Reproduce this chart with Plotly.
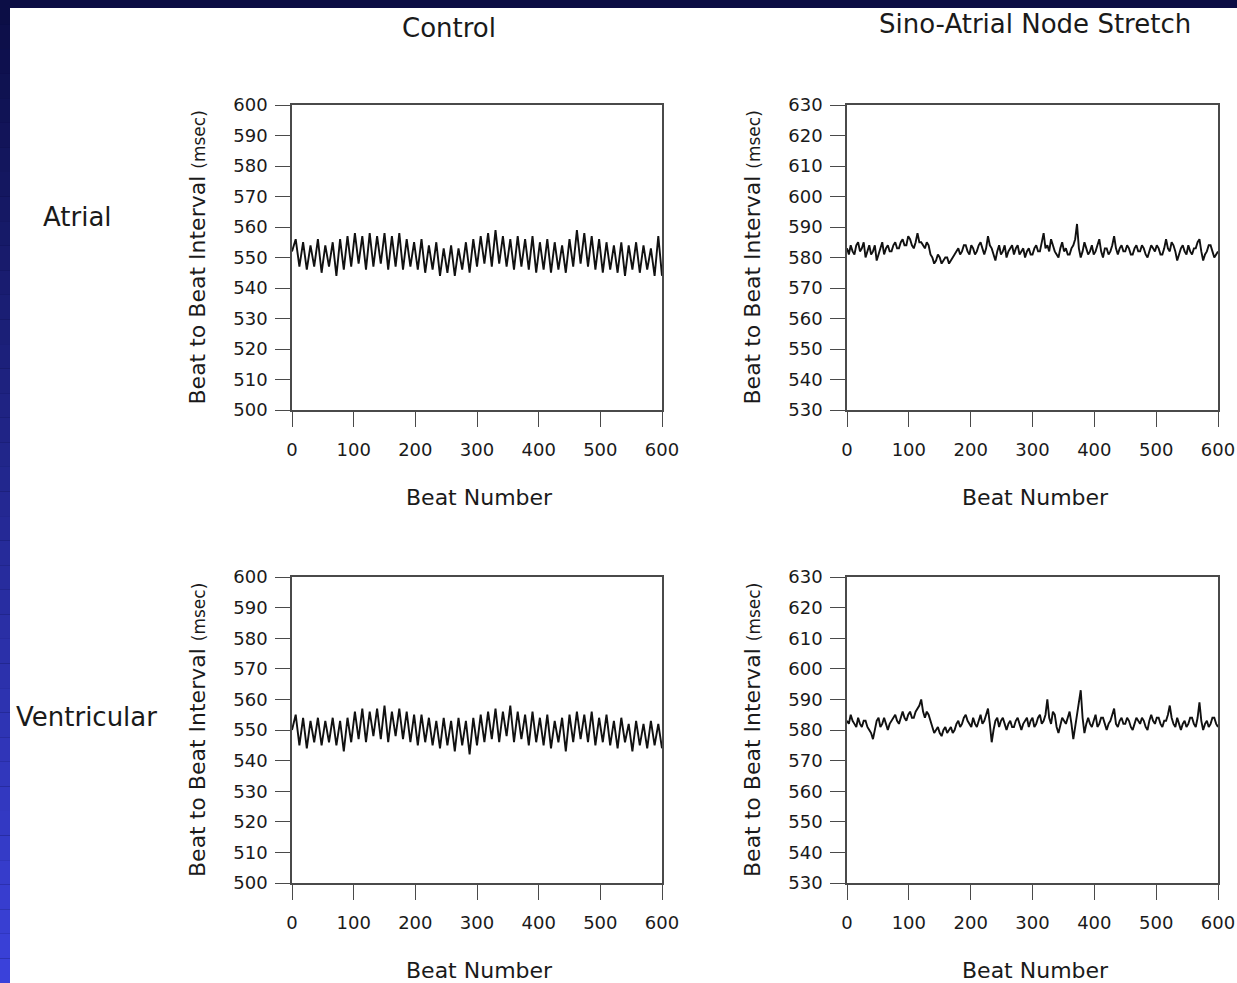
import plotly.graph_objects as go

W, H = 1237, 983

# Beat numbers: control traces sampled every 6 beats, stretch traces every 3
BEATS_6 = list(range(0, 601, 6))
BEATS_3 = list(range(0, 601, 3))

control_atrial = [
    552, 556, 547, 555, 546, 554, 547, 556, 545, 554,
    547, 555, 544, 556, 546, 557, 547, 558, 548, 557,
    546, 558, 547, 557, 548, 558, 546, 557, 547, 558,
    546, 556, 547, 555, 546, 556, 545, 554, 546, 555,
    544, 553, 545, 554, 544, 553, 546, 555, 545, 556,
    547, 557, 548, 558, 547, 559, 548, 557, 547, 556,
    546, 557, 547, 556, 546, 557, 545, 555, 546, 556,
    545, 555, 546, 554, 545, 556, 547, 559, 548, 558,
    547, 557, 546, 556, 545, 555, 546, 554, 545, 555,
    544, 554, 546, 555, 545, 554, 546, 553, 544, 557,
    544,
]
control_ventricular = [
    550, 555, 545, 554, 544, 553, 546, 554, 545, 553,
    546, 554, 545, 553, 543, 554, 546, 556, 547, 557,
    546, 556, 548, 557, 547, 558, 546, 556, 548, 557,
    547, 556, 546, 555, 545, 555, 546, 554, 545, 553,
    544, 554, 545, 553, 543, 554, 545, 553, 542, 554,
    545, 555, 546, 556, 547, 557, 546, 556, 548, 558,
    546, 556, 547, 555, 545, 556, 546, 554, 545, 555,
    544, 553, 546, 554, 543, 555, 546, 556, 547, 555,
    546, 556, 545, 554, 546, 555, 545, 553, 544, 554,
    546, 552, 543, 553, 545, 552, 544, 553, 545, 552,
    544,
]
stretch_atrial = [
    583, 581, 584, 582, 581, 584, 585, 582, 583, 585, 580, 582, 584, 581, 582, 584, 579, 581, 583, 585,
    581, 583, 584, 582, 582, 584, 585, 583, 583, 585, 586, 584, 584, 587, 586, 584, 583, 585, 588, 585,
    585, 584, 583, 585, 584, 581, 580, 578, 579, 581, 580, 578, 579, 580, 580, 578, 579, 580, 581, 582,
    583, 581, 582, 584, 584, 582, 581, 584, 583, 581, 582, 584, 585, 583, 581, 583, 587, 584, 583, 581,
    579, 582, 584, 581, 582, 584, 580, 582, 583, 584, 581, 583, 584, 581, 582, 583, 580, 582, 583, 581,
    581, 583, 584, 582, 582, 585, 588, 583, 584, 582, 586, 584, 582, 581, 580, 583, 585, 582, 583, 581,
    581, 583, 584, 586, 591, 583, 580, 582, 585, 583, 581, 582, 584, 581, 582, 584, 586, 582, 580, 583,
    583, 581, 582, 584, 587, 583, 581, 583, 584, 582, 582, 584, 583, 581, 581, 583, 584, 582, 582, 584,
    583, 581, 580, 582, 584, 583, 582, 584, 583, 581, 581, 583, 586, 583, 582, 585, 584, 582, 579, 581,
    583, 584, 582, 581, 584, 582, 581, 583, 583, 585, 586, 582, 579, 581, 582, 584, 584, 582, 580, 581,
    582,
]
stretch_ventricular = [
    583, 582, 585, 583, 582, 581, 584, 582, 581, 583, 583, 581, 580, 579, 577, 580, 583, 584, 581, 582,
    584, 582, 580, 582, 583, 584, 585, 583, 582, 584, 586, 584, 583, 585, 586, 584, 584, 586, 587, 588,
    590, 586, 584, 586, 585, 583, 581, 579, 580, 581, 579, 578, 580, 581, 579, 580, 581, 579, 580, 582,
    583, 581, 582, 584, 585, 583, 582, 581, 584, 582, 581, 583, 585, 582, 583, 585, 587, 582, 576, 580,
    583, 584, 581, 583, 584, 582, 580, 582, 583, 581, 581, 583, 584, 582, 580, 582, 583, 584, 581, 583,
    584, 581, 582, 584, 585, 582, 583, 585, 590, 584, 582, 586, 585, 581, 579, 582, 584, 583, 582, 584,
    586, 582, 577, 581, 585, 588, 593, 584, 579, 582, 584, 582, 581, 583, 585, 581, 582, 584, 584, 582,
    580, 582, 583, 585, 587, 582, 581, 583, 584, 582, 582, 584, 583, 581, 580, 582, 584, 583, 582, 584,
    583, 581, 580, 583, 585, 583, 582, 584, 584, 582, 581, 583, 583, 585, 588, 584, 582, 581, 584, 582,
    580, 582, 583, 581, 582, 584, 584, 582, 581, 584, 589, 583, 580, 582, 583, 581, 582, 584, 584, 582,
    581,
]

X_TICKS = [0, 100, 200, 300, 400, 500, 600]
Y_TICKS_CONTROL = list(range(500, 601, 10))
Y_TICKS_STRETCH = list(range(530, 631, 10))

COL_TITLES = ["Control", "Sino-Atrial Node Stretch"]
ROW_TITLES = ["Atrial", "Ventricular"]
X_TITLE = "Beat Number"
Y_TITLE = "Beat to Beat Interval <span style='font-size:17px'>(msec)</span>"

FONT = "DejaVu Sans"
TXT = "#1a1a1a"
AXIS = "#4a4a4a"


def px(x):
    return x / W


def py(y):
    return 1 - y / H


# panel boxes in pixels: (left, right, top, bottom)
cols = [(292, 662), (847, 1218)]
rows = [(105, 410), (577, 883)]

panels = [
    (0, 0, BEATS_6, control_atrial, Y_TICKS_CONTROL),
    (0, 1, BEATS_3, stretch_atrial, Y_TICKS_STRETCH),
    (1, 0, BEATS_6, control_ventricular, Y_TICKS_CONTROL),
    (1, 1, BEATS_3, stretch_ventricular, Y_TICKS_STRETCH),
]

fig = go.Figure()
layout_axes = {}
for i, (r, c, beats, series, yticks) in enumerate(panels):
    n = "" if i == 0 else str(i + 1)
    xa, ya = "x" + n, "y" + n
    fig.add_trace(go.Scatter(
        x=beats, y=series, mode="lines",
        line=dict(color="#111111", width=1.9),
        xaxis=xa, yaxis=ya, showlegend=False, hoverinfo="skip",
    ))
    l, rr = cols[c]
    t, b = rows[r]
    common = dict(
        showgrid=False, zeroline=False, showline=True, linecolor=AXIS,
        linewidth=1.6, mirror=True, ticks="outside", ticklen=15,
        tickwidth=1.4, tickcolor=AXIS, automargin=False,
        tickfont=dict(family=FONT, size=18, color=TXT),
    )
    layout_axes["xaxis" + n] = dict(
        common, domain=[px(l), px(rr)], range=[0, 600],
        tickvals=X_TICKS, anchor=ya, ticklabelstandoff=8,
    )
    layout_axes["yaxis" + n] = dict(
        common, domain=[py(b), py(t)], range=[yticks[0], yticks[-1]],
        tickvals=yticks, anchor=xa, ticklabelstandoff=4,
    )

annotations = []
for c, (l, rr) in enumerate(cols):
    for r, (t, b) in enumerate(rows):
        annotations.append(dict(
            text=X_TITLE, x=px((l + rr) / 2 + 3), y=py(b + 87),
            xref="paper", yref="paper", showarrow=False,
            xanchor="center", yanchor="middle",
            font=dict(family=FONT, size=22, color=TXT),
        ))
        annotations.append(dict(
            text=Y_TITLE, x=px(l - 95), y=py((t + b) / 2),
            xref="paper", yref="paper", showarrow=False, textangle=-90,
            xanchor="center", yanchor="middle",
            font=dict(family=FONT, size=22, color=TXT),
        ))

for text, x, y in zip(COL_TITLES, [449, 1035], [28, 24]):
    annotations.append(dict(
        text=text, x=px(x), y=py(y), xref="paper", yref="paper",
        showarrow=False, xanchor="center", yanchor="middle",
        font=dict(family=FONT, size=26, color=TXT),
    ))
for text, x, y in zip(ROW_TITLES, [77, 86], [217, 717]):
    annotations.append(dict(
        text=text, x=px(x), y=py(y), xref="paper", yref="paper",
        showarrow=False, xanchor="center", yanchor="middle",
        font=dict(family=FONT, size=26, color=TXT),
    ))

# slide frame: navy top band, blue gradient strip on the left, white page
shapes = [dict(type="rect", xref="paper", yref="paper", x0=px(10), x1=1,
               y0=0, y1=py(8), fillcolor="white", line_width=0, layer="below")]
top_rgb = (11, 13, 68)
bot_rgb = (59, 66, 220)
steps = 40
for k in range(steps):
    f = (k + 0.5) / steps
    col = tuple(round(a + (b_ - a) * f) for a, b_ in zip(top_rgb, bot_rgb))
    shapes.append(dict(
        type="rect", xref="paper", yref="paper", x0=0, x1=px(10),
        y0=1 - (k + 1) / steps, y1=1 - k / steps,
        fillcolor="rgb(%d,%d,%d)" % col, line_width=0, layer="below",
    ))

fig.update_layout(
    width=W, height=H, margin=dict(l=0, r=0, t=0, b=0, pad=0),
    paper_bgcolor="rgb(11,13,68)", plot_bgcolor="white",
    annotations=annotations, shapes=shapes, **layout_axes,
)

fig.write_html("out.html")
